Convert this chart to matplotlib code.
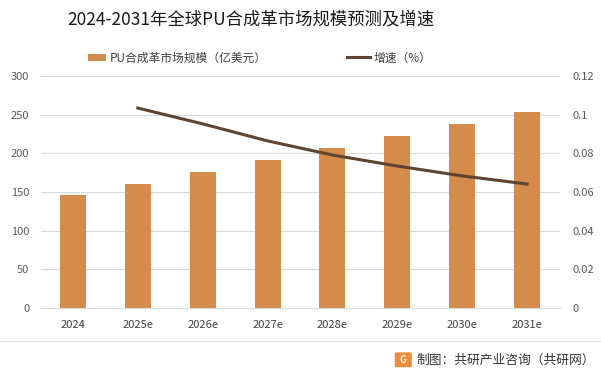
import matplotlib
matplotlib.use("Agg")
import matplotlib.pyplot as plt
from matplotlib.patches import FancyBboxPatch
import numpy as np

plt.rcParams['font.family'] = ['Noto Sans CJK SC', 'DejaVu Sans']

years = ['2024', '2025e', '2026e', '2027e', '2028e', '2029e', '2030e', '2031e']
market = [146, 160, 176, 191, 207, 222, 238, 253]
growth = [None, 0.1034, 0.0952, 0.0864, 0.0791, 0.0734, 0.0683, 0.0641]
left_ticks = [0, 50, 100, 150, 200, 250, 300]
right_ticks = [0, 0.02, 0.04, 0.06, 0.08, 0.1, 0.12]
right_labels = ['0', '0.02', '0.04', '0.06', '0.08', '0.1', '0.12']

bar_color = '#D58B4B'
line_color = '#5E4431'
tick_color = '#595959'

fig = plt.figure(figsize=(6.01, 3.74), dpi=100)
ax = fig.add_axes([0.0674, 0.1765, 0.8636, 0.6205])
ax2 = ax.twinx()

x = np.arange(len(years))
bars = ax.bar(x, market, width=0.4, color=bar_color, zorder=2,
              label='PU合成革市场规模（亿美元）')
gx = [i for i, g in enumerate(growth) if g is not None]
gy = [g for g in growth if g is not None]
line, = ax2.plot(gx, gy, color=line_color, linewidth=2.2, label='增速（%）')

ax.set_xlim(-0.5, len(years) - 0.5)
ax.set_ylim(0, 300)
ax.set_yticks(left_ticks)
ax2.set_ylim(0, 0.12)
ax2.set_yticks(right_ticks)
ax2.set_yticklabels(right_labels)
ax.set_xticks(x)
ax.set_xticklabels(years)

ax.grid(axis='y', color='#D9D9D9', linewidth=0.8, zorder=0)
ax.set_axisbelow(True)
for a in (ax, ax2):
    for s in a.spines.values():
        s.set_visible(False)
ax.spines['bottom'].set_visible(True)
ax.spines['bottom'].set_color('#D9D9D9')
ax.tick_params(axis='both', length=0, labelsize=8, colors=tick_color, pad=8)
ax.tick_params(axis='x', colors='#404040', pad=9)
ax2.tick_params(axis='y', length=0, labelsize=8, colors=tick_color, pad=9)

fig.text(0.418, 0.947, '2024-2031年全球PU合成革市场规模预测及增速',
         ha='center', va='center', fontsize=12.5, color='#1a1a1a')

fig.legend(handles=[bars], loc='center left', bbox_to_anchor=(0.128, 0.845),
           frameon=False, fontsize=8.5, handlelength=1.6, handleheight=0.5,
           handletextpad=0.3, labelcolor='#404040')
fig.legend(handles=[line], loc='center left', bbox_to_anchor=(0.56, 0.845),
           frameon=False, fontsize=8.5, handlelength=1.9, handletextpad=0.3,
           labelcolor='#404040')

# bottom source line
fig.add_artist(plt.Line2D([0, 1], [0.088, 0.088], color='#E0E0E0', linewidth=0.8))
fig.add_artist(FancyBboxPatch((0.66, 0.022), 0.022, 0.032,
                              boxstyle='round,pad=0.002', color='#F08A3C',
                              transform=fig.transFigure))
fig.text(0.671, 0.038, 'G', ha='center', va='center', fontsize=7,
         color='white', fontweight='bold')
fig.text(0.693, 0.038, '制图：共研产业咨询（共研网）', ha='left', va='center',
         fontsize=9.2, color='#333333')

fig.savefig('out.png', dpi=100)
